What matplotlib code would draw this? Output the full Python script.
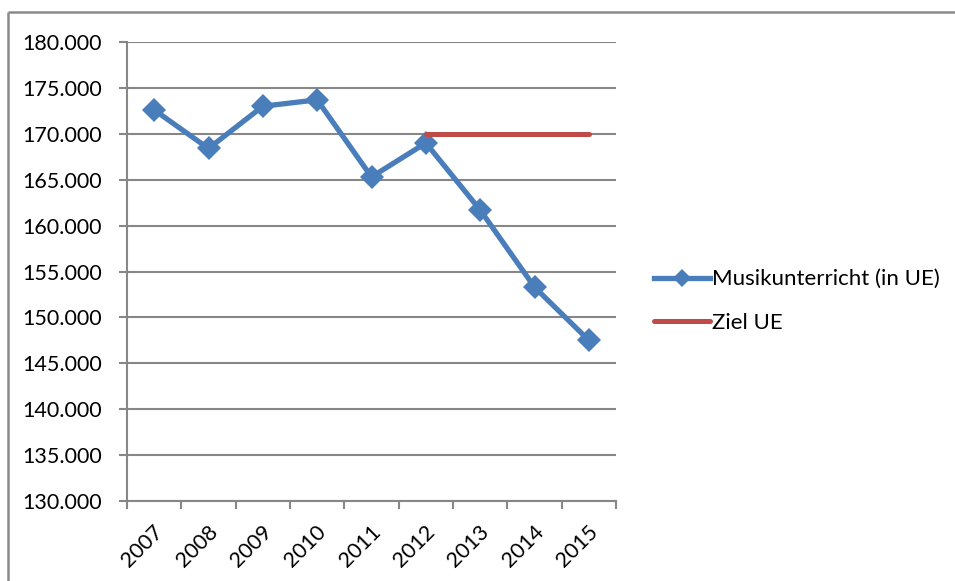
import matplotlib
matplotlib.use("Agg")
import matplotlib.pyplot as plt
from matplotlib.lines import Line2D
from matplotlib.transforms import ScaledTranslation
import numpy as np

plt.rcParams['font.family'] = ['Lato', 'DejaVu Sans']

years = ["2007", "2008", "2009", "2010", "2011", "2012", "2013", "2014", "2015"]
musik_ue = [172600, 168400, 173000, 173700, 165300, 169000, 161700, 153300, 147500]
ziel_years = ["2012", "2013", "2014", "2015"]
ziel_ue = [170000, 170000, 170000, 170000]
y_ticks = [130000, 135000, 140000, 145000, 150000, 155000, 160000, 165000, 170000, 175000, 180000]

W, H = 955, 581
fig = plt.figure(figsize=(W / 100, H / 100), dpi=100)
ax = fig.add_axes([127 / W, 1 - 501 / H, (616 - 127) / W, (501 - 42) / H])

grid_col = "#878787"
blue = "#4A7EBB"
red = "#BE4B48"

x = np.arange(len(years))
zx = [years.index(y) for y in ziel_years]

ax.plot(x, musik_ue, color=blue, lw=3.8, marker="D", markersize=12,
        markeredgewidth=0, label="Musikunterricht (in UE)", zorder=3,
        solid_joinstyle="round")
ax.plot(zx, ziel_ue, color=red, lw=3.6, label="Ziel UE", zorder=4,
        solid_capstyle="round")

ax.set_ylim(130000, 180000)
ax.set_yticks(y_ticks)
ax.set_yticklabels([f"{v:,}".replace(",", ".") for v in y_ticks])
ax.yaxis.grid(True, color=grid_col, lw=1.5)
ax.set_axisbelow(True)

ax.set_xlim(-0.5, len(years) - 0.5)
ax.set_xticks(np.arange(len(years) + 1) - 0.5)
ax.set_xticklabels([])
ax.set_xticks(x, minor=True)
ax.set_xticklabels(years, minor=True, rotation=45, ha="right",
                   rotation_mode="anchor")
ax.tick_params(axis="x", which="minor", length=0, pad=15, labelsize=15.5)
ax.tick_params(axis="x", which="major", length=6, width=1.5, color=grid_col,
               direction="out")
ax.tick_params(axis="y", length=6, width=1.5, color=grid_col, labelsize=15.5,
               pad=12)
shift = ScaledTranslation(-1 / 100, 0, fig.dpi_scale_trans)
for lab in ax.get_xticklabels(minor=True):
    lab.set_transform(lab.get_transform() + shift)

for side in ("top", "right"):
    ax.spines[side].set_visible(False)
for side in ("left", "bottom"):
    ax.spines[side].set_color(grid_col)
    ax.spines[side].set_linewidth(1.5)

leg = fig.legend(loc="center left", bbox_to_anchor=(654 / W, 1 - 301 / H),
                 frameon=False, fontsize=16, handlelength=2.5,
                 handletextpad=0.1, labelspacing=1.05, borderpad=0,
                 borderaxespad=0, markerscale=0.75)

# chart frame
frame_kw = dict(color="#8A8A8A", lw=1.8, transform=fig.transFigure,
                solid_capstyle="butt")
fig.add_artist(Line2D([8 / W, 1.01], [1 - 12 / H, 1 - 12 / H], **frame_kw))
fig.add_artist(Line2D([8 / W, 8 / W], [-0.01, 1 - 12 / H], **frame_kw))

fig.savefig("out.png", dpi=100)
